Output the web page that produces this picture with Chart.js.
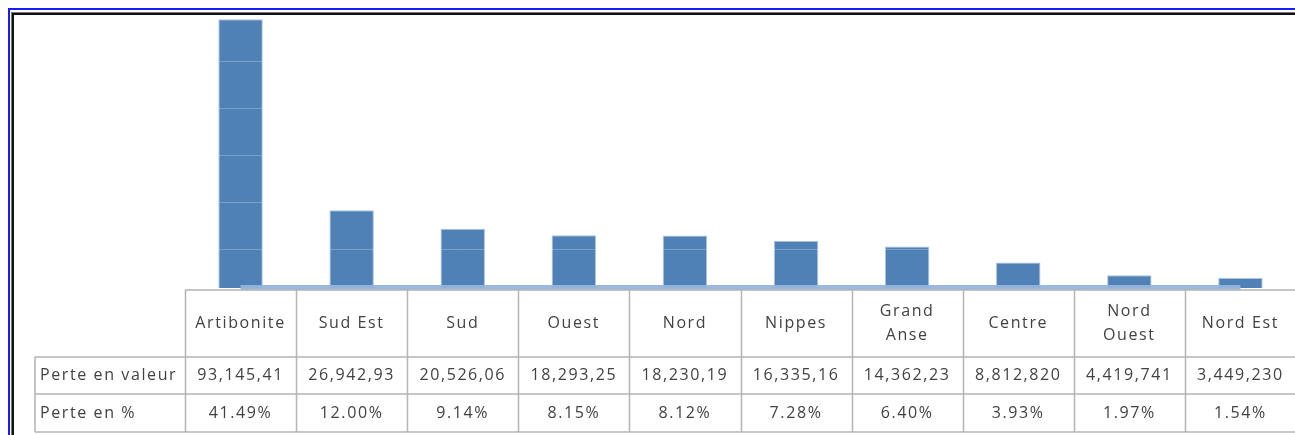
<!DOCTYPE html>
<html>
<head>
<meta charset="utf-8">
<script src="https://cdn.jsdelivr.net/npm/chart.js@4"></script>
<style>
  html, body { margin: 0; padding: 0; background: #fff; overflow: hidden; }
  #wrap { position: relative; width: 1300px; height: 435px; }
</style>
</head>
<body>
<div id="wrap"><canvas id="pertesChart"></canvas></div>
<script>
// Pertes par département
const departements = ['Artibonite', 'Sud Est', 'Sud', 'Ouest', 'Nord', 'Nippes', ['Grand', 'Anse'], 'Centre', ['Nord', 'Ouest'], 'Nord Est'];
const perteValeur = [93145.41, 26942.93, 20526.06, 18293.25, 18230.19, 16335.16, 14362.23, 8812.820, 4419.741, 3449.230];
const perteValeurTexte = ['93,145,41', '26,942,93', '20,526,06', '18,293,25', '18,230,19', '16,335,16', '14,362,23', '8,812,820', '4,419,741', '3,449,230'];
const pertePourcent = [41.49, 12.00, 9.14, 8.15, 8.12, 7.28, 6.40, 3.93, 1.97, 1.54];
const rowLabels = ['Perte en valeur', 'Perte en %'];
const gridLevels = [13200, 29500, 45800, 62100, 78400];

const TABLE_TOP = 290;
const ROW_LINES = [357, 394, 432];
const LABEL_LEFT = 35;

// cadre + tableau de données sous les barres
const tablePlugin = {
    id: 'tablePlugin',
    afterDatasetsDraw(chart) {
        const ctx = chart.ctx;
        const x = chart.scales.x;
        const base = chart.scales.y.getPixelForValue(0);
        // bande claire au pied des colonnes
        ctx.save();
        ctx.fillStyle = 'rgba(150, 180, 220, 0.95)';
        const x0 = x.getPixelForValue(0);
        const x1 = x.getPixelForValue(departements.length - 1);
        ctx.fillRect(x0, base - 3, x1 - x0, 5);
        ctx.restore();
    },
    afterDraw(chart) {
        const ctx = chart.ctx;
        const x = chart.scales.x;
        const n = departements.length;
        const colW = (x.right - x.left) / n;
        const left = x.left;
        const right = x.right;

        ctx.save();
        // lignes du tableau
        ctx.strokeStyle = '#b4b4b4';
        ctx.lineWidth = 1.5;
        ctx.beginPath();
        ctx.moveTo(left, TABLE_TOP);
        ctx.lineTo(right, TABLE_TOP);
        ROW_LINES.forEach(y => {
            ctx.moveTo(LABEL_LEFT, y);
            ctx.lineTo(right, y);
        });
        ctx.moveTo(LABEL_LEFT, ROW_LINES[0]);
        ctx.lineTo(LABEL_LEFT, ROW_LINES[2]);
        for (let i = 0; i <= n; i++) {
            const cx = Math.round(left + i * colW) + 0.5;
            ctx.moveTo(cx, TABLE_TOP);
            ctx.lineTo(cx, ROW_LINES[2]);
        }
        ctx.stroke();

        // textes
        ctx.fillStyle = '#424242';
        ctx.font = '16px "Open Sans"';
        ctx.letterSpacing = '1.6px';
        ctx.textBaseline = 'middle';
        ctx.textAlign = 'center';
        const headMid = (TABLE_TOP + ROW_LINES[0]) / 2;
        departements.forEach((d, i) => {
            const cx = x.getPixelForValue(i);
            if (Array.isArray(d)) {
                ctx.fillText(d[0], cx, headMid - 12);
                ctx.fillText(d[1], cx, headMid + 12);
            } else {
                ctx.fillText(d, cx, headMid);
            }
            ctx.fillText(perteValeurTexte[i], cx, (ROW_LINES[0] + ROW_LINES[1]) / 2);
            ctx.fillText(pertePourcent[i].toFixed(2) + '%', cx, (ROW_LINES[1] + ROW_LINES[2]) / 2);
        });
        ctx.textAlign = 'left';
        ctx.fillText(rowLabels[0], LABEL_LEFT + 5, (ROW_LINES[0] + ROW_LINES[1]) / 2);
        ctx.fillText(rowLabels[1], LABEL_LEFT + 5, (ROW_LINES[1] + ROW_LINES[2]) / 2);

        // cadre
        ctx.fillStyle = '#1a1aff';
        ctx.fillRect(8, 8, 1300, 2);
        ctx.fillRect(8, 8, 2, 430);
        ctx.fillStyle = '#777';
        ctx.fillRect(11, 12, 1300, 1);
        ctx.fillRect(11, 12, 1, 430);
        ctx.fillStyle = '#111';
        ctx.fillRect(12, 13, 1300, 2);
        ctx.fillRect(12, 13, 2, 430);
        ctx.restore();
    }
};

new Chart(document.getElementById('pertesChart'), {
    type: 'bar',
    data: {
        labels: departements,
        datasets: [{
            label: 'Perte en valeur',
            data: perteValeur,
            backgroundColor: 'rgb(79, 129, 182)',
            borderColor: 'rgba(150, 180, 215, 0.8)',
            borderWidth: 1,
            barPercentage: 0.8,
            categoryPercentage: 0.5,
        }]
    },
    options: {
        responsive: true,
        maintainAspectRatio: false,
        animation: false,
        layout: {
            padding: { left: 185, right: 4, top: 19, bottom: 147 }
        },
        plugins: {
            legend: { display: false },
            tooltip: { enabled: false },
            title: { display: false }
        },
        scales: {
            x: {
                display: false
            },
            y: {
                min: 0,
                max: 93200,
                afterBuildTicks: (scale) => {
                    scale.ticks = gridLevels.map(v => ({ value: v }));
                },
                ticks: { display: false },
                border: { display: false },
                grid: {
                    color: 'rgba(255, 255, 255, 0.25)',
                    drawTicks: false,
                    z: 1
                }
            }
        }
    },
    plugins: [tablePlugin]
});
</script>
</body>
</html>
